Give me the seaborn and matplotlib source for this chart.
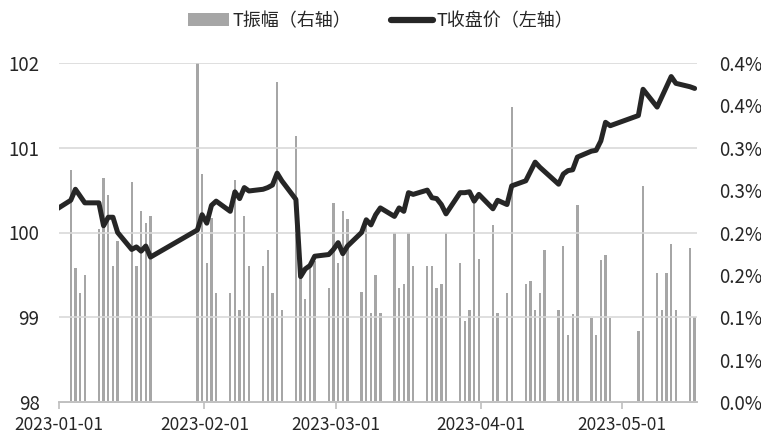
import pandas as pd
import matplotlib
matplotlib.use('Agg')
import matplotlib.pyplot as plt
import matplotlib.dates as mdates
from matplotlib.patches import Patch
from matplotlib.lines import Line2D
import seaborn as sns

# trading calendar (exchange closed on these weekdays)
holidays = ['2023-01-02', '2023-01-23', '2023-01-24', '2023-01-25', '2023-01-26',
            '2023-01-27', '2023-04-05', '2023-05-01', '2023-05-02', '2023-05-03']
trade_days = pd.bdate_range('2022-12-30', '2023-05-16', freq='C', holidays=holidays)

# T close price, left axis (first value is 2022-12-30)
close_price = [
    100.24,
    100.38, 100.51, 100.43, 100.35, 100.35, 100.08, 100.18, 100.18, 100.00, 99.80,
    99.83, 99.78, 99.84, 99.71, 100.03, 100.21,
    100.11, 100.32, 100.37, 100.25, 100.48, 100.40, 100.53, 100.49, 100.51, 100.53,
    100.56, 100.70, 100.61, 100.39, 99.48, 99.57, 99.61, 99.72, 99.74, 99.80,
    99.88, 99.75, 99.84, 100.00, 100.15, 100.09, 100.21, 100.29, 100.19, 100.29,
    100.25, 100.47, 100.45, 100.50, 100.41, 100.40, 100.33, 100.22, 100.47, 100.47,
    100.48, 100.37, 100.45,
    100.28, 100.38, 100.33, 100.55, 100.61, 100.72, 100.83, 100.77, 100.72, 100.57,
    100.69, 100.73, 100.74, 100.89, 100.96, 100.97, 101.08, 101.30, 101.26,
    101.38, 101.69, 101.48, 101.60, 101.72, 101.84, 101.76, 101.72, 101.70,
]

# T amplitude in %, right axis (from 2023-01-03)
amplitude_pct = [
    0.274, 0.158, 0.129, 0.150, 0.204, 0.264, 0.244, 0.160, 0.190, 0.260,
    0.160, 0.225, 0.211, 0.220, 0.410, 0.269,
    0.164, 0.217, 0.129, 0.129, 0.262, 0.109, 0.219, 0.160, 0.160, 0.179,
    0.129, 0.377, 0.109, 0.314, 0.154, 0.121, 0.158, 0.166, 0.135, 0.235,
    0.164, 0.225, 0.216, 0.130, 0.215, 0.105, 0.150, 0.105, 0.200, 0.134,
    0.139, 0.199, 0.160, 0.160, 0.160, 0.134, 0.139, 0.200, 0.164, 0.095,
    0.109, 0.235, 0.169,
    0.209, 0.105, 0.129, 0.348, 0.139, 0.143, 0.109, 0.129, 0.179, 0.109,
    0.184, 0.079, 0.104, 0.232, 0.099, 0.079, 0.168, 0.173, 0.099,
    0.084, 0.255, 0.152, 0.108, 0.152, 0.186, 0.108, 0.182, 0.100,
]

left_ticks = [98, 99, 100, 101, 102]
right_ticks = [0.0, 0.05, 0.10, 0.15, 0.20, 0.25, 0.30, 0.35, 0.40]
right_tick_labels = ['0.0%', '0.1%', '0.1%', '0.2%', '0.2%', '0.3%', '0.3%', '0.4%', '0.4%']
month_ticks = pd.to_datetime(['2023-01-01', '2023-02-01', '2023-03-01', '2023-04-01', '2023-05-01'])

half_day = pd.Timedelta(hours=12)
line_df = pd.DataFrame({'date': trade_days + half_day, 'close': close_price})
bar_df = pd.DataFrame({'date': trade_days[1:] + half_day, 'amp': amplitude_pct})

sns.set_theme(style='white')
plt.rcParams['font.family'] = ['Noto Sans CJK SC', 'DejaVu Sans']
text_color = '#262626'

fig = plt.figure(figsize=(7.61, 4.43), dpi=100)
ax = fig.add_axes([59 / 761, 1 - 402 / 443, 638 / 761, 339 / 443])
ax2 = ax.twinx()

ax2.bar(bar_df['date'], bar_df['amp'], width=0.5, color='#a6a6a6', linewidth=0)
sns.lineplot(data=line_df, x='date', y='close', ax=ax, color=text_color, linewidth=3.6,
             solid_joinstyle='round', solid_capstyle='round')

ax.set_zorder(ax2.get_zorder() + 1)
ax.patch.set_visible(False)

ax.set_xlim(pd.Timestamp('2023-01-01'), pd.Timestamp('2023-05-17'))
ax.set_ylim(98, 102)
ax2.set_ylim(0, 0.4)
ax.set_yticks(left_ticks)
ax.set_yticklabels([str(t) for t in left_ticks])
ax2.set_yticks(right_ticks)
ax2.set_yticklabels(right_tick_labels)
ax.set_xticks(month_ticks)
ax.xaxis.set_major_formatter(mdates.DateFormatter('%Y-%m-%d'))
ax.set_xlabel('')
ax.set_ylabel('')
ax2.set_ylabel('')

ax.yaxis.grid(True, color='#d9d9d9', linewidth=1.2)
ax.xaxis.grid(False)
for a in (ax, ax2):
    for s in ['top', 'left', 'right']:
        a.spines[s].set_visible(False)
    a.spines['bottom'].set_color('#bfbfbf')
    a.spines['bottom'].set_linewidth(1.2)

ax.tick_params(axis='y', length=0, pad=14, labelsize=13.5, labelcolor=text_color)
ax2.tick_params(axis='y', length=0, pad=16, labelsize=13.5, labelcolor=text_color)
ax.tick_params(axis='x', length=5, width=1.2, color='#bfbfbf', pad=5,
               labelsize=12.5, labelcolor=text_color, bottom=True)

handles = [Patch(facecolor='#a6a6a6', edgecolor='none'),
           Line2D([0], [0], color=text_color, linewidth=4.5, solid_capstyle='round')]
fig.legend(handles, ['T振幅（右轴）', 'T收盘价（左轴）'], loc='center', bbox_to_anchor=(0.5, 0.953),
           ncol=2, frameon=False, handlelength=2.3, handleheight=0.7,
           handletextpad=0.2, columnspacing=2.2, labelcolor=text_color,
           prop={'family': ['Noto Sans CJK SC', 'DejaVu Sans'], 'size': 13})

fig.savefig('out.png', dpi=100)
